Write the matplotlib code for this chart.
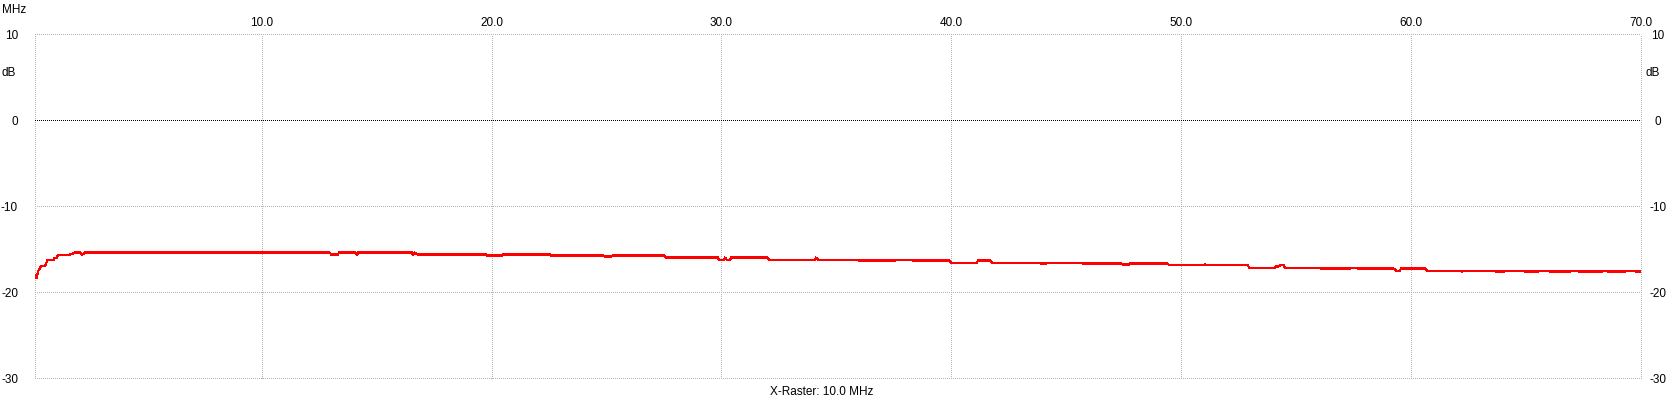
import matplotlib
matplotlib.use("Agg")
import matplotlib.pyplot as plt

# ---- data ----
freq_mhz = [0.14, 0.21, 0.28, 0.36, 0.43, 0.57, 0.65, 0.69, 0.94, 0.97, 1.08, 1.15,
            1.66, 1.88, 2.10, 2.20, 2.31,
            12.97, 13.02, 13.32, 13.36, 14.06, 14.15, 14.19, 16.54, 16.58, 16.67, 16.80,
            19.76, 19.80, 20.45, 20.50, 22.54, 22.58, 24.89, 24.98, 25.06, 25.15, 25.28,
            27.54, 27.59, 29.85, 29.89, 30.11, 30.15, 30.24, 30.37, 30.41,
            32.02, 32.07, 34.07, 34.11, 34.20, 35.94, 35.98, 37.55, 37.59, 38.29, 38.33,
            39.94, 39.98, 41.11, 41.16, 41.72, 41.77, 43.85, 43.90, 44.12, 44.16,
            45.68, 45.72, 47.42, 47.51, 47.60, 47.68, 47.77, 49.42, 49.47,
            51.01, 51.03, 51.07, 52.90, 52.95, 54.08, 54.12, 54.21, 54.29, 54.47, 54.51,
            56.03, 56.08, 57.34, 57.38, 57.64, 57.69, 59.25, 59.34, 59.51, 59.56,
            60.64, 60.69, 62.19, 62.22, 62.29, 63.64, 63.69, 64.04, 64.08, 64.91, 64.95,
            65.52, 65.56, 66.00, 66.04, 66.91, 66.95, 67.25, 67.30, 67.34, 67.38,
            68.30, 68.34, 68.52, 68.56, 69.30, 69.34, 69.74, 69.78, 70.00]
s21_db = [-18.07, -18.41, -17.56, -17.17, -16.98, -16.98, -16.50, -16.28, -16.28, -16.08, -16.00, -15.73,
          -15.65, -15.42, -15.42, -15.65, -15.42,
          -15.42, -15.65, -15.65, -15.42, -15.42, -15.65, -15.42, -15.42, -15.65, -15.42, -15.65,
          -15.65, -15.77, -15.77, -15.65, -15.65, -15.77, -15.77, -15.95, -15.80, -15.95, -15.77,
          -15.77, -16.00, -16.00, -16.28, -16.28, -16.00, -16.28, -16.28, -16.00,
          -16.00, -16.24, -16.24, -16.00, -16.24, -16.24, -16.35, -16.35, -16.24, -16.24, -16.35,
          -16.35, -16.59, -16.59, -16.35, -16.35, -16.59, -16.59, -16.70, -16.70, -16.59,
          -16.59, -16.70, -16.70, -16.90, -16.75, -16.90, -16.70, -16.70, -16.90,
          -16.90, -16.78, -16.90, -16.90, -17.17, -17.17, -16.95, -17.10, -16.90, -16.90, -17.17,
          -17.17, -17.28, -17.28, -17.17, -17.17, -17.28, -17.28, -17.52, -17.52, -17.28,
          -17.28, -17.52, -17.52, -17.63, -17.52, -17.52, -17.63, -17.63, -17.52, -17.52, -17.63,
          -17.63, -17.52, -17.52, -17.63, -17.63, -17.52, -17.52, -17.63, -17.52, -17.63,
          -17.63, -17.52, -17.52, -17.63, -17.63, -17.52, -17.52, -17.63, -17.63]

x_ticks = [10, 20, 30, 40, 50, 60, 70]
x_tick_labels = ["10.0", "20.0", "30.0", "40.0", "50.0", "60.0", "70.0"]
y_ticks = [10, 0, -10, -20, -30]
y_tick_labels = ["10", "0", "-10", "-20", "-30"]
x_min, x_max = 0.14, 70.0
y_min, y_max = -30, 10

W, H = 1676, 414
FS = 8.5
plt.rcParams['font.family'] = ['Liberation Sans', 'DejaVu Sans']
plt.rcParams['font.size'] = FS

fig = plt.figure(figsize=(W / 100, H / 100), dpi=100)
left, right, top, bottom = 35, 1641, 35, 379
ax = fig.add_axes([left / W, 1 - bottom / H, (right - left) / W, (bottom - top) / H])
ax.set_xlim(x_min, x_max)
ax.set_ylim(y_min, y_max)
for s in ax.spines.values():
    s.set_visible(False)

grid_kw = dict(color="#b4b4b4", lw=0.72, linestyle=(0, (1, 2)), antialiased=False, clip_on=False)
for xv in x_ticks[:-1]:
    ax.axvline(xv, **grid_kw)
ax.axvline(x_min, **grid_kw)
ax.axvline(x_max, **grid_kw)
for yv in y_ticks:
    if yv != 0:
        ax.axhline(yv, **grid_kw)
ax.axhline(0, color="black", lw=0.72, linestyle=(0, (1, 2)), antialiased=False, clip_on=False)

ax.plot(freq_mhz, s21_db, color="#ff0000", lw=0.9, antialiased=False, zorder=3)

# ticks
ax.xaxis.tick_top()
ax.set_xticks(x_ticks)
ax.set_xticklabels(x_tick_labels)
ax.tick_params(axis="x", length=0, pad=4.0, labelsize=FS)
ax.set_yticks(y_ticks)
ax.set_yticklabels(y_tick_labels)
ax.tick_params(axis="y", length=0, left=False, right=False, labelleft=True, labelright=True,
               pad=12.2, labelsize=FS)
for t in ax.yaxis.get_major_ticks():
    t.label2.set_horizontalalignment("center")


def fx(x):
    return x / W


def fy(y):
    return 1 - y / H


fig.text(fx(2), fy(10), "MHz", ha="left", va="center", fontsize=FS)
fig.text(fx(1), fy(73), "dB", ha="left", va="center", fontsize=FS)
fig.text(fx(1653), fy(73), "dB", ha="center", va="center", fontsize=FS)
fig.text(fx(770), fy(392), "X-Raster: 10.0 MHz", ha="left", va="center", fontsize=FS)

fig.savefig("out.png", dpi=100, facecolor="white")
